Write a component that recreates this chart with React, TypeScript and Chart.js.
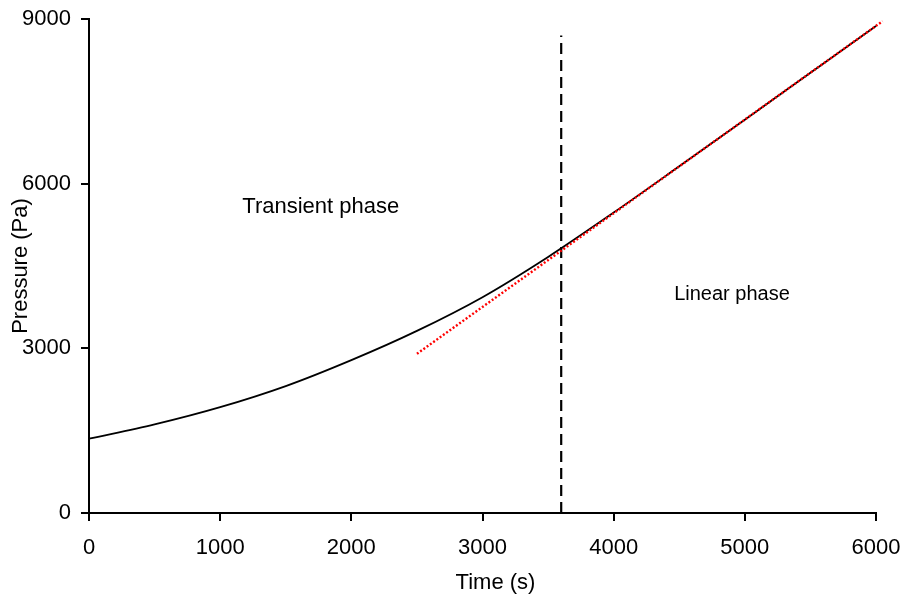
import React, { useEffect, useRef } from "react";
import { Chart, registerables } from "chart.js";

Chart.register(...registerables);

const FONT = "'Liberation Sans', Arial, Helvetica, sans-serif";

// Measured pressure curve
const timeS = [0, 500, 1000, 1500, 2000, 2500, 3000, 3500, 4000, 4500, 5000, 5500, 6000, 6040];
const pressurePa = [1354, 1614, 1928, 2312, 2785, 3318, 3932, 4665, 5474, 6316, 7166, 8020, 8873, 8941];

// Linear fit (red dotted)
const fitTime = [2500, 6050];
const fitPressure = [2900, 8960];

// Phase boundary (dashed)
const boundaryTime = [3600, 3600];
const boundaryPressure = [0, 8700];

// Axis ticks
const xTicks = [0, 1000, 2000, 3000, 4000, 5000, 6000];
const yTicks = [0, 3000, 6000, 9000];

// Phase annotations
const phaseLabels = ["Transient phase", "Linear phase"];
const phaseLabelTime = [1767, 4902];
const phaseLabelPressure = [5580, 3977];
const phaseLabelSize = [22, 20];

const toPoints = (xs: number[], ys: number[]) => xs.map((x, i) => ({ x, y: ys[i] }));

const textPlugin = {
  id: "phaseText",
  afterDraw(chart: any) {
    const { ctx, scales, chartArea } = chart;
    const x = scales.x;
    const y = scales.y;
    ctx.save();
    ctx.fillStyle = "#000";
    ctx.textAlign = "center";
    ctx.textBaseline = "middle";
    phaseLabels.forEach((t, i) => {
      ctx.font = `${phaseLabelSize[i]}px ${FONT}`;
      ctx.fillText(t, x.getPixelForValue(phaseLabelTime[i]), y.getPixelForValue(phaseLabelPressure[i]));
    });
    ctx.font = `22px ${FONT}`;
    ctx.fillText("Time (s)", (chartArea.left + chartArea.right) / 2 + 13, chartArea.bottom + 70);
    ctx.restore();
  },
};

export default function App() {
  const ref = useRef<HTMLCanvasElement | null>(null);

  useEffect(() => {
    if (!ref.current) return;
    const chart = new Chart(ref.current, {
      type: "line",
      data: {
        datasets: [
          {
            label: "Linear fit",
            data: toPoints(fitTime, fitPressure),
            borderColor: "#ff0000",
            borderWidth: 2.4,
            borderDash: [2, 2],
            pointRadius: 0,
            fill: false,
            clip: false,
            order: 0,
          },
          {
            label: "Boundary",
            data: toPoints(boundaryTime, boundaryPressure),
            borderColor: "#000",
            borderWidth: 2.2,
            borderDash: [11, 6],
            pointRadius: 0,
            fill: false,
            clip: false,
            order: 1,
          },
          {
            label: "Pressure",
            data: toPoints(timeS, pressurePa),
            borderColor: "#000",
            borderWidth: 1.8,
            pointRadius: 0,
            cubicInterpolationMode: "monotone",
            fill: false,
            clip: false,
            order: 2,
          },
        ],
      },
      options: {
        animation: false,
        responsive: false,
        events: [],
        layout: { padding: { top: 19, right: 29, left: 0, bottom: 0 } },
        plugins: { legend: { display: false }, tooltip: { enabled: false } },
        scales: {
          x: {
            type: "linear",
            min: 0,
            max: 6000,
            afterBuildTicks: (s: any) => {
              s.ticks = xTicks.map((v) => ({ value: v }));
            },
            afterFit: (s: any) => {
              s.height = 87;
              s.paddingLeft = 0;
              s.paddingRight = 0;
            },
            grid: { drawOnChartArea: false, drawTicks: true, tickLength: 8, color: "#000", lineWidth: 2 },
            border: { display: true, color: "#000", width: 2 },
            ticks: {
              color: "#000",
              font: { family: FONT, size: 22 },
              padding: 14,
              maxRotation: 0,
              callback: (v: any) => String(v),
            },
          },
          y: {
            type: "linear",
            min: 0,
            max: 9000,
            afterBuildTicks: (s: any) => {
              s.ticks = yTicks.map((v) => ({ value: v }));
            },
            afterFit: (s: any) => {
              s.width = 89;
              s.paddingTop = 0;
              s.paddingBottom = 0;
            },
            grid: { drawOnChartArea: false, drawTicks: true, tickLength: 8, color: "#000", lineWidth: 2 },
            border: { display: true, color: "#000", width: 2 },
            ticks: {
              color: "#000",
              font: { family: FONT, size: 22 },
              padding: 10,
              callback: (v: any) => String(v),
            },
            title: {
              display: true,
              text: "Pressure (Pa)",
              color: "#000",
              font: { family: FONT, size: 22 },
              padding: { top: 8, bottom: 0 },
            },
          },
        },
      },
      plugins: [textPlugin],
    } as any);
    return () => chart.destroy();
  }, []);

  return (
    <div style={{ position: "absolute", left: 0, top: 0, width: 905, height: 600, background: "#fff" }}>
      <canvas ref={ref} width={905} height={600} style={{ display: "block" }} />
    </div>
  );
}
